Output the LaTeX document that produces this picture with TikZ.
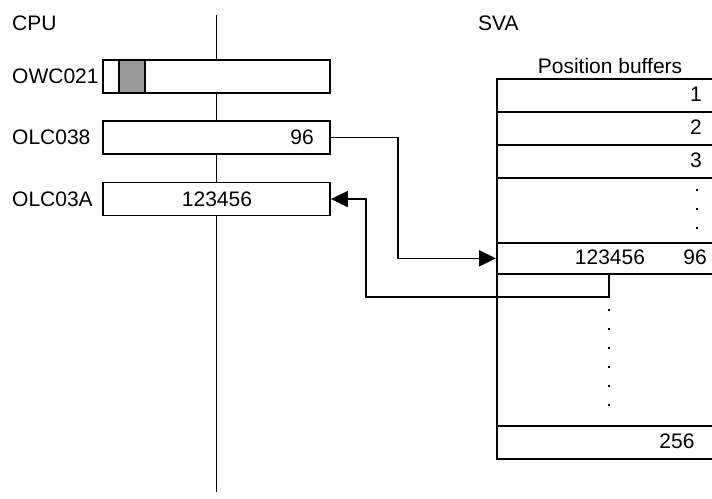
\documentclass[tikz,border=0pt]{standalone}
\usepackage{fontspec}
\setmainfont{Liberation Sans}
\usetikzlibrary{arrows.meta}
\definecolor{markgray}{HTML}{999999}
\begin{document}
\begin{tikzpicture}[x=1pt,y=-1pt,
  font=\fontsize{21}{25}\selectfont,
  lw/.style={line width=1.7pt},
  regbox/.style={lw,draw=black,fill=white,minimum width=227pt,minimum height=33pt,inner sep=0pt},
  bufrow/.style={lw,draw=black,fill=white,minimum width=220pt,inner sep=0pt,anchor=north west},
  lbl/.style={inner sep=0pt,anchor=west},
  txt/.style={inner sep=0pt},
  dotsq/.style={fill=black,inner sep=0pt,minimum size=2.6pt,rectangle},
  arr/.style={lw,-{Triangle[length=17pt,width=16pt]}}]
\useasboundingbox (0,0) rectangle (712,498);
\clip (0,0) rectangle (712,498);
% headings
\node[lbl] (cpu) at (12,23) {CPU};
\node[lbl] (sva) at (478,23) {SVA};
% CPU bus line
\coordinate (bustop) at (216.5,15);
\coordinate (busbot) at (216.5,492);
\draw[lw] (bustop) -- (busbot);
% CPU registers
\node[regbox] (owc) at (216.5,76.5) {};
\node[lw,draw=black,fill=markgray,minimum width=26pt,minimum height=33pt,inner sep=0pt] (owcmark) at (132,76.5) {};
\node[regbox] (olc038) at (216.5,137.5) {};
\node[regbox] (olc03a) at (216.5,199) {};
\node[lbl] (lowc) at (12,76.5) {OWC021};
\node[lbl] (lolc038) at (12,137.5) {OLC038};
\node[lbl] (lolc03a) at (12,199) {OLC03A};
\node[txt] (v96) at (302,137.5) {96};
\node[txt] (v123) at (217,199) {123456};
% SVA position buffers
\node[txt] (pbtitle) at (610,66) {Position buffers};
\node[bufrow,minimum height=33pt] (r1) at (496,78) {};
\node[bufrow,minimum height=33pt] (r2) at (496,111) {};
\node[bufrow,minimum height=33pt] (r3) at (496,144) {};
\node[bufrow,minimum height=65pt] (rdots) at (496,177) {};
\node[bufrow,minimum height=31pt] (rsel) at (496,242) {};
\node[bufrow,minimum height=152pt] (rlow) at (496,273) {};
\node[bufrow,minimum height=33pt] (r256) at (496,425) {};
\node[txt,anchor=east] (t1) at (702,94.5) {1};
\node[txt,anchor=east] (t2) at (702,127.5) {2};
\node[txt,anchor=east] (t3) at (702,160.5) {3};
\node[dotsq] (d1) at (697,190) {};
\node[dotsq] (d2) at (697,209) {};
\node[dotsq] (d3) at (697,228) {};
\node[txt] (s123) at (610,257.5) {123456};
\node[txt] (s96) at (695,257.5) {96};
\foreach \i/\yy in {1/310,2/329,3/348,4/367,5/386,6/405}
  \node[dotsq] (ld\i) at (609,\yy) {};
\node[txt] (t256) at (677,441.5) {256};
% connectors
\draw[arr] (olc038.east) -- ++(67,0) |- (rsel.west);
\coordinate (tap) at (609,273);
\coordinate (retcorner) at (366,199);
\draw[arr] (tap) -- ++(0,24) -| (retcorner) -- (olc03a.east);
\end{tikzpicture}
\end{document}
